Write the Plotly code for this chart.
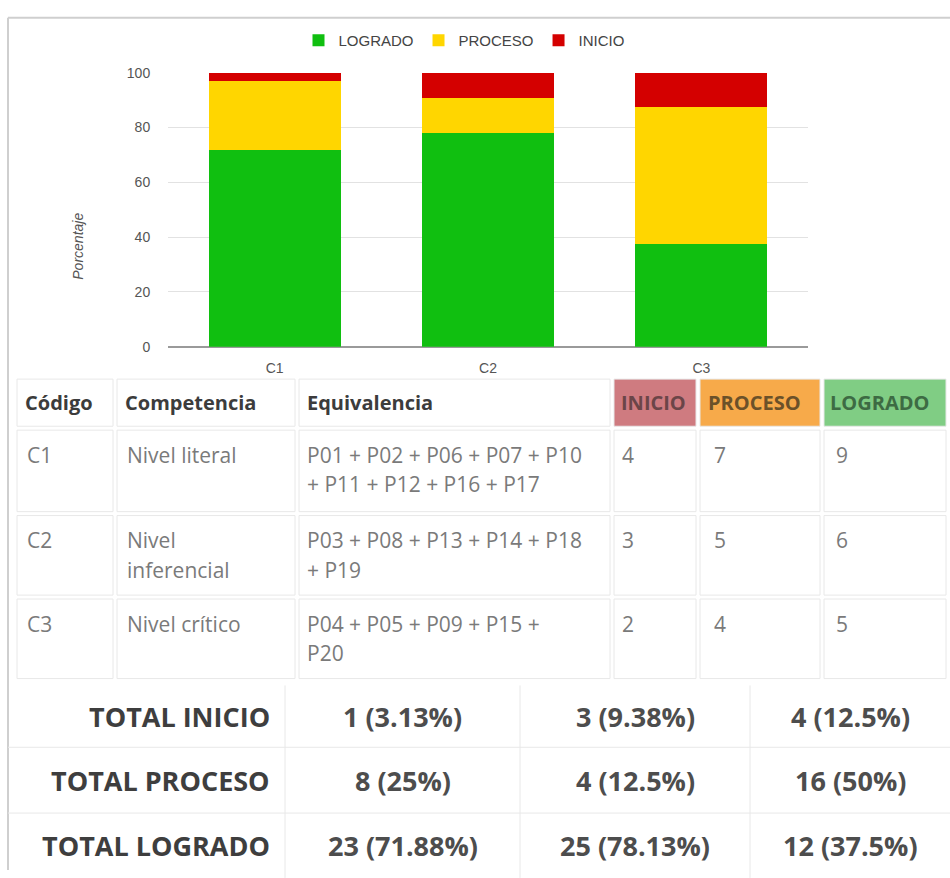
import plotly.graph_objects as go

# ---------------- data ----------------
categorias = ["C1", "C2", "C3"]
logrado_pct = [71.88, 78.13, 37.5]
proceso_pct = [25, 12.5, 50]
inicio_pct = [3.13, 9.38, 12.5]

series_names = ["LOGRADO", "PROCESO", "INICIO"]

# detail table
header_labels = ["Código", "Competencia", "Equivalencia", "INICIO", "PROCESO", "LOGRADO"]
codigos = ["C1", "C2", "C3"]
competencias = ["Nivel literal", "Nivel\ninferencial", "Nivel crítico"]
equivalencias = [
    "P01 + P02 + P06 + P07 + P10\n+ P11 + P12 + P16 + P17",
    "P03 + P08 + P13 + P14 + P18\n+ P19",
    "P04 + P05 + P09 + P15 +\nP20",
]
inicio_cnt = [4, 3, 2]
proceso_cnt = [7, 5, 4]
logrado_cnt = [9, 6, 5]

# totals table
total_labels = ["TOTAL INICIO", "TOTAL PROCESO", "TOTAL LOGRADO"]
total_inicio_n = [1, 3, 4]
total_proceso_n = [8, 4, 16]
total_logrado_n = [23, 25, 12]

# ---------------- styles ----------------
W, H = 950, 878
GREEN, YELLOW, RED = "#10bf10", "#ffd600", "#d40000"
CHART_FONT = "Arial"
TABLE_FONT = "Open Sans"
LINE = "#e8e8e8"


def fx(px):
    return px / W


def fy(py):
    return 1 - py / H


fig = go.Figure()
for name, vals, col in zip(series_names, [logrado_pct, proceso_pct, inicio_pct], [GREEN, YELLOW, RED]):
    fig.add_trace(go.Bar(x=categorias, y=vals, name=name, marker=dict(color=col, line=dict(width=0))))

shapes = []
annotations = []

# outer frame of the chart card
shapes.append(dict(type="line", xref="paper", yref="paper", x0=fx(8), x1=fx(950), y0=fy(10), y1=fy(10),
                   line=dict(color="#cfcfcf", width=2)))
shapes.append(dict(type="line", xref="paper", yref="paper", x0=fx(8), x1=fx(8), y0=fy(10), y1=fy(878),
                   line=dict(color="#cfcfcf", width=2)))

# y-axis title
annotations.append(dict(text="<i>Porcentaje</i>", x=fx(68), y=fy(207), xref="paper", yref="paper",
                        textangle=-90, showarrow=False, font=dict(family=CHART_FONT, size=14, color="#555")))

# ---------------- detail table ----------------
col_edges = [15, 115, 297, 612, 698, 822, 948]
row_edges = [376, 428, 515, 600, 685]
header_fills = [None, None, None, "#cf7b80", "#f7aa4a", "#80cd84"]
header_colors = ["#3c3c3c", "#3c3c3c", "#3c3c3c", "#6b4548", "#6b5129", "#3d6b43"]
inset = 2

for r in range(len(row_edges) - 1):
    for c in range(len(col_edges) - 1):
        fill = header_fills[c] if r == 0 else None
        shapes.append(dict(type="rect", xref="paper", yref="paper",
                           x0=fx(col_edges[c] + inset), x1=fx(col_edges[c + 1] - inset),
                           y0=fy(row_edges[r] + inset), y1=fy(row_edges[r + 1] - inset),
                           line=dict(color=LINE, width=1),
                           fillcolor=fill if fill else "rgba(0,0,0,0)", layer="below"))

header_offsets = [8, 8, 8, 7, 8, 6]
for c, lab in enumerate(header_labels):
    annotations.append(dict(text="<b>" + lab + "</b>", x=fx(col_edges[c] + header_offsets[c]),
                            y=fy((row_edges[0] + row_edges[1]) / 2),
                            xref="paper", yref="paper", xanchor="left", yanchor="middle", showarrow=False,
                            font=dict(family=TABLE_FONT, size=20, color=header_colors[c])))

body_cols = [codigos, competencias, equivalencias,
             [str(v) for v in inicio_cnt], [str(v) for v in proceso_cnt], [str(v) for v in logrado_cnt]]
body_offsets = [10, 10, 8, 8, 14, 12]
for r in range(3):
    top = row_edges[r + 1]
    for c in range(6):
        lines = body_cols[c][r].split("\n")
        for k, ln in enumerate(lines):
            annotations.append(dict(text=ln, x=fx(col_edges[c] + body_offsets[c]), y=fy(top + 27 + 30 * k),
                                    xref="paper", yref="paper", xanchor="left", yanchor="middle",
                                    showarrow=False,
                                    font=dict(family=TABLE_FONT, size=21, color="#7a7a7a")))

# ---------------- totals table ----------------
t_col_edges = [8, 285, 520, 750, 950]
t_row_edges = [690, 753, 820, 886]
for xv in t_col_edges[1:-1]:
    shapes.append(dict(type="line", xref="paper", yref="paper", x0=fx(xv), x1=fx(xv),
                       y0=fy(t_row_edges[0]), y1=fy(t_row_edges[-1]), line=dict(color=LINE, width=1)))
for yv in t_row_edges[1:-1]:
    shapes.append(dict(type="line", xref="paper", yref="paper", x0=fx(t_col_edges[0]), x1=fx(t_col_edges[-1]),
                       y0=fy(yv), y1=fy(yv), line=dict(color=LINE, width=1)))

totals_rows = [
    (total_inicio_n, inicio_pct),
    (total_proceso_n, proceso_pct),
    (total_logrado_n, logrado_pct),
]
for r, lab in enumerate(total_labels):
    yc = fy((t_row_edges[r] + t_row_edges[r + 1]) / 2)
    annotations.append(dict(text="<b>" + lab + "</b>", x=fx(t_col_edges[1] - 13), y=yc, xref="paper", yref="paper",
                            xanchor="right", yanchor="middle", showarrow=False,
                            font=dict(family=TABLE_FONT, size=27, color="#3e3e3e")))
    ns, ps = totals_rows[r]
    for c in range(3):
        txt = f"{ns[c]} ({ps[c]:g}%)"
        annotations.append(dict(text="<b>" + txt + "</b>",
                                x=fx((t_col_edges[c + 1] + t_col_edges[c + 2]) / 2), y=yc,
                                xref="paper", yref="paper", xanchor="center", yanchor="middle", showarrow=False,
                                font=dict(family=TABLE_FONT, size=27, color="#4d4d4d")))

fig.update_layout(
    width=W, height=H,
    margin=dict(l=0, r=0, t=0, b=0),
    paper_bgcolor="white", plot_bgcolor="white",
    barmode="stack", bargap=0.38,
    font=dict(family=CHART_FONT, color="#555"),
    showlegend=True,
    legend=dict(orientation="h", x=fx(464), y=fy(33), xanchor="center", yanchor="middle",
                traceorder="normal", font=dict(family=CHART_FONT, size=15, color="#444"),
                itemwidth=30, bgcolor="rgba(0,0,0,0)"),
    xaxis=dict(domain=[fx(168), fx(808)], showgrid=False, showline=False, zeroline=False,
               ticks="outside", ticklen=8, tickcolor="rgba(0,0,0,0)",
               tickfont=dict(family=CHART_FONT, size=14, color="#555"), fixedrange=True),
    yaxis=dict(domain=[fy(345), fy(66)], range=[0, 100], dtick=20, showgrid=True, gridcolor="#e2e2e2",
               zeroline=True, zerolinecolor="#9a9a9a", zerolinewidth=1.5, showline=False,
               ticks="outside", ticklen=14, tickcolor="rgba(0,0,0,0)",
               tickfont=dict(family=CHART_FONT, size=14, color="#555"), fixedrange=True),
    shapes=shapes,
    annotations=annotations,
)

post = ("document.body.style.margin='0';document.body.style.padding='0';"
        "var gd=document.getElementById('{plot_id}');"
        "gd.style.position='absolute';gd.style.left='0px';gd.style.top='0px';")
fig.write_html("out.html", post_script=post, config={"displayModeBar": False})
